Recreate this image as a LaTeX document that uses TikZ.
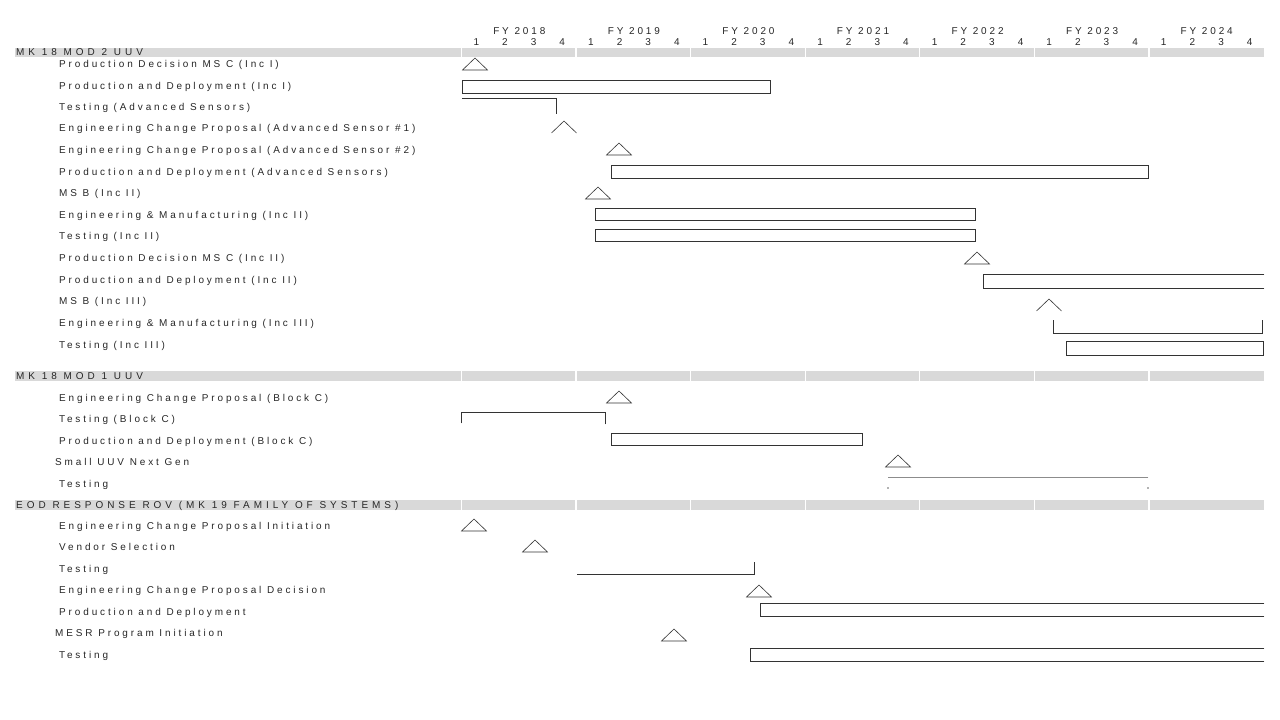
\documentclass[tikz,border=0pt]{standalone}
\usepackage{fontspec}
\usepackage{tikz}
\newfontfamily\ganttfont{Liberation Sans}[LetterSpace=29]
\newfontfamily\ganttcaps{Liberation Sans}[LetterSpace=40]
\tikzset{
    rowlabel/.style={anchor=base west, inner sep=0pt, text=black!85, font=\ganttfont\fontsize{10}{12}\selectfont},
    sectitle/.style={anchor=base west, inner sep=0pt, text=black!85, font=\ganttcaps\fontsize{10}{12}\selectfont},
    yearlabel/.style={anchor=base, inner sep=0pt, text=black!85, font=\ganttfont\fontsize{10}{12}\selectfont},
    secband/.style={fill=black!15, draw=none},
    taskbar/.style={draw=black!80, line width=0.8pt},
    openbar/.style={taskbar, line cap=rect},
    milestone/.style={draw=black!80, line width=0.6pt, fill=white, line join=miter},
    % milestone markers
    ms/.pic={\draw[milestone] (-12.5,6) -- (0,-6) -- (12.5,6) -- cycle;},
    msopen/.pic={\draw[milestone, fill=none] (-12.5,6) -- (0,-6) -- (12.5,6);}
}

\begin{document}
\begin{tikzpicture}[x=1bp, y=-1bp]
\useasboundingbox (0,0) rectangle (1280,720);

% Fiscal years and quarters
\foreach \yr [count=\k from 0] in {2018,...,2024} {
    \node[yearlabel] (fy\yr) at ({519.3+114.57*\k},34.6) {FY \yr};
    \foreach \q in {1,...,4}
        \node[yearlabel] (q\yr\q) at ({462+114.57*\k+28.64*(\q-0.5)},45.6) {\q};
}

% Section bands
\fill[secband] (15,48) rectangle (1264,57.5);
\fill[secband] (15,371) rectangle (1264,381);
\fill[secband] (15,500) rectangle (1264,510);
\foreach \k in {0,...,6}
    \foreach \ya/\yb in {48/57.5, 371/381, 500/510}
        \draw[white, line width=1.4pt] ({461.5+114.57*\k},\ya) -- ({461.5+114.57*\k},\yb);

\node[sectitle] (mod2) at (16,56) {MK 18 MOD 2 UUV};
\node[sectitle] (mod1) at (16,379.6) {MK 18 MOD 1 UUV};
\node[sectitle] (rov) at (16,508.6) {EOD RESPONSE ROV (MK 19 FAMILY OF SYSTEMS)};

% MK 18 MOD 2 UUV
\node[rowlabel] (r1) at (59,67.6) {Production Decision MS C (Inc I)};
\node[rowlabel] (r2) at (59,89.6) {Production and Deployment (Inc I)};
\node[rowlabel] (r3) at (59,110.6) {Testing (Advanced Sensors)};
\node[rowlabel] (r4) at (59,131.6) {Engineering Change Proposal (Advanced Sensor \#1)};
\node[rowlabel] (r5) at (59,153.6) {Engineering Change Proposal (Advanced Sensor \#2)};
\node[rowlabel] (r6) at (59,175.6) {Production and Deployment (Advanced Sensors)};
\node[rowlabel] (r7) at (59,196.6) {MS B (Inc II)};
\node[rowlabel] (r8) at (59,218.6) {Engineering \& Manufacturing (Inc II)};
\node[rowlabel] (r9) at (59,239.6) {Testing (Inc II)};
\node[rowlabel] (r10) at (59,261.6) {Production Decision MS C (Inc II)};
\node[rowlabel] (r11) at (59,283.6) {Production and Deployment (Inc II)};
\node[rowlabel] (r12) at (59,304.6) {MS B (Inc III)};
\node[rowlabel] (r13) at (59,326.6) {Engineering \& Manufacturing (Inc III)};
\node[rowlabel] (r14) at (59,348.6) {Testing (Inc III)};

\pic at (475,64) {ms};
\draw[taskbar] (462,80) rectangle (770,93);
\draw[openbar] (462,98) -| (556,114);
\pic at (564,127) {msopen};
\pic at (619,149) {ms};
\draw[taskbar] (611,165) rectangle (1148,178);
\pic at (598,193) {ms};
\draw[taskbar] (595,208) rectangle (975,220);
\draw[taskbar] (595,229) rectangle (975,241);
\pic at (977,258) {ms};
\draw[openbar] (1264,274) -| (983,288) -- (1264,288);
\pic at (1049,305) {msopen};
\draw[openbar] (1053,320) |- (1262,333) -- (1262,320);
\draw[taskbar] (1066,341) rectangle (1263,355);

% MK 18 MOD 1 UUV
\node[rowlabel] (r15) at (59,401.6) {Engineering Change Proposal (Block C)};
\node[rowlabel] (r16) at (59,422.6) {Testing (Block C)};
\node[rowlabel] (r17) at (59,444.6) {Production and Deployment (Block C)};
\node[rowlabel] (r18) at (55,465.6) {Small UUV Next Gen};
\node[rowlabel] (r19) at (59,487.6) {Testing};

\pic at (619,397) {ms};
\draw[openbar] (461,423) |- (605,412) -- (605,424);
\draw[taskbar] (611,433) rectangle (862,445);
\pic at (898,461) {ms};
\draw[openbar, draw=black!45] (888,477) -- (1148,477);
\fill[black!60] (888,488) circle (0.8) (1148,488) circle (0.8);

% EOD RESPONSE ROV
\node[rowlabel] (r20) at (59,529.6) {Engineering Change Proposal Initiation};
\node[rowlabel] (r21) at (59,550.6) {Vendor Selection};
\node[rowlabel] (r22) at (59,572.6) {Testing};
\node[rowlabel] (r23) at (59,593.6) {Engineering Change Proposal Decision};
\node[rowlabel] (r24) at (59,615.6) {Production and Deployment};
\node[rowlabel] (r25) at (55,636.6) {MESR Program Initiation};
\node[rowlabel] (r26) at (59,658.6) {Testing};

\pic at (474,525) {ms};
\pic at (535,546) {ms};
\draw[openbar] (577,574) -| (754,562);
\pic at (759,591) {ms};
\draw[openbar] (1264,603) -| (760,616) -- (1264,616);
\pic at (674,635) {ms};
\draw[openbar] (1264,648) -| (750,661) -- (1264,661);
\end{tikzpicture}
\end{document}
